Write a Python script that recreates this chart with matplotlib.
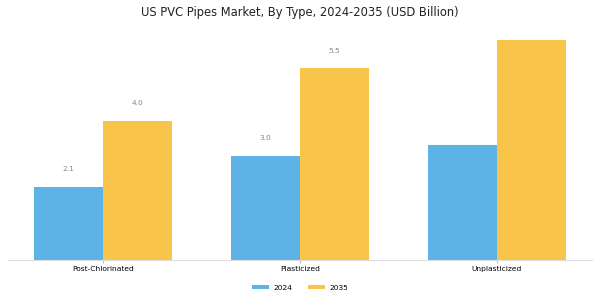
import numpy as np
import matplotlib.pyplot as plt

categories = ["Post-Chlorinated", "Plasticized", "Unplasticized"]
years = ["2024", "2035"]
values_2024 = [2.1, 3.0, 3.3]
values_2035 = [4.0, 5.5, 6.3]
labels_2024 = ["2.1", "3.0", ""]
labels_2035 = ["4.0", "5.5", ""]

colors = ["#5DB3E6", "#F9C44A"]

fig, ax = plt.subplots(figsize=(6, 3), dpi=100)
fig.subplots_adjust(left=0.013, right=0.987, top=0.9, bottom=0.133)

x = np.arange(len(categories))
w = 0.35
b1 = ax.bar(x - w / 2, values_2024, w, color=colors[0], label=years[0])
b2 = ax.bar(x + w / 2, values_2035, w, color=colors[1], label=years[1])

for bars, labs in [(b1, labels_2024), (b2, labels_2035)]:
    for bar, lab in zip(bars, labs):
        if lab:
            ax.text(bar.get_x() + bar.get_width() / 2, bar.get_height() + 0.42,
                    lab, ha="center", va="bottom", fontsize=5.4, color="#888888")

ax.set_xticks(x)
ax.set_xticklabels(categories, fontsize=5.4)
ax.tick_params(axis="x", length=2, color="#bbbbbb", pad=2)
ax.set_yticks([])
ax.set_xlim(-0.485, 2.485)
ax.set_ylim(0, 6.6)
for s in ["top", "right", "left"]:
    ax.spines[s].set_visible(False)
ax.spines["bottom"].set_color("#dddddd")

fig.suptitle("US PVC Pipes Market, By Type, 2024-2035 (USD Billion)", fontsize=8.3,
             y=0.957, va="center", color="#222222")
fig.legend(loc="center", bbox_to_anchor=(0.5, 0.04), ncol=2, frameon=False,
           fontsize=5.4, handlelength=2.3, handleheight=0.5, handletextpad=0.55,
           columnspacing=2.1)

fig.savefig("out.png")
